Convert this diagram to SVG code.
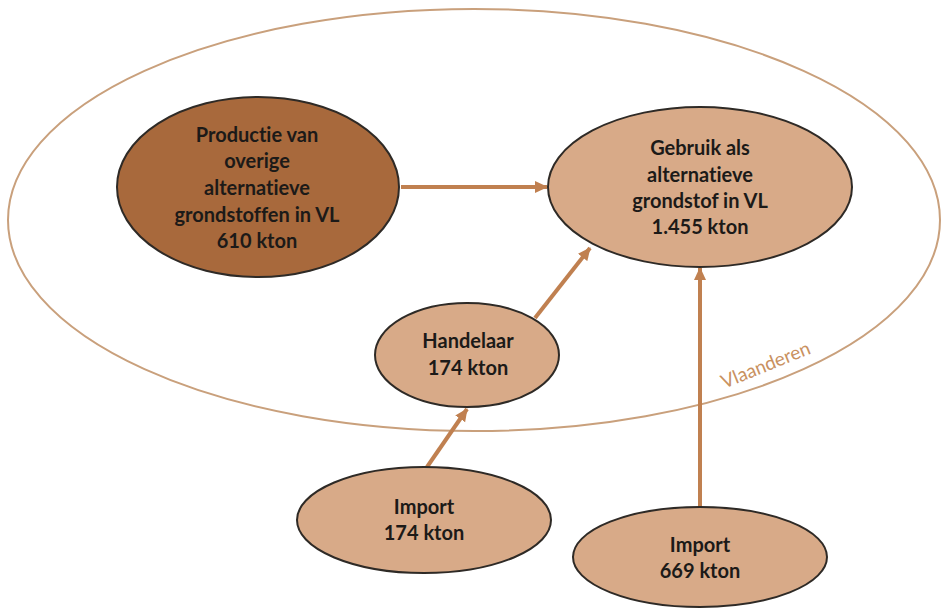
<svg xmlns="http://www.w3.org/2000/svg" width="941" height="611" viewBox="0 0 941 611">
<style>
.node{stroke:#2e2a26;stroke-width:2}
.dark{fill:#a8693c}
.light{fill:#d8aa88}
.lbl{font-family:Lato,"Liberation Sans",sans-serif;font-weight:bold;font-size:20px;fill:#1c1a18;text-anchor:middle;font-variant-ligatures:none}
.conn{stroke:#c08050;stroke-width:4;fill:none;marker-end:url(#ah)}
</style>
<defs>
<marker id="ah" markerUnits="userSpaceOnUse" markerWidth="14" markerHeight="14" refX="12" refY="7" orient="auto">
<path d="M0,1 L13,7 L0,13 Z" fill="#c08050"/>
</marker>
</defs>
<rect width="941" height="611" fill="#ffffff"/>
<g id="vlaanderen">
<ellipse cx="474" cy="220" rx="466" ry="211" fill="none" stroke="#c9a07c" stroke-width="2"/>
<text x="768" y="371" transform="rotate(-22 768 371)" font-family="Lato,'Liberation Sans',sans-serif" font-size="19" fill="#c9915f" text-anchor="middle">Vlaanderen</text>
</g>
<g id="connectors">
<line class="conn" x1="401" y1="187" x2="547" y2="187"/>
<line class="conn" x1="535" y1="318" x2="590" y2="248"/>
<line class="conn" x1="427" y1="467" x2="467" y2="409"/>
<line class="conn" x1="700" y1="508" x2="700" y2="268"/>
</g>
<g id="productie">
<ellipse class="node dark" cx="258" cy="187" rx="141" ry="90"/>
<text class="lbl" x="257" y="142">Productie van</text>
<text class="lbl" x="257" y="168">overige</text>
<text class="lbl" x="257" y="195">alternatieve</text>
<text class="lbl" x="257" y="222">grondstoffen  in VL</text>
<text class="lbl" x="257" y="248">610 kton</text>
</g>
<g id="gebruik">
<ellipse class="node light" cx="700" cy="187" rx="152" ry="80"/>
<text class="lbl" x="700" y="155">Gebruik als</text>
<text class="lbl" x="700" y="182">alternatieve</text>
<text class="lbl" x="700" y="208">grondstof  in VL</text>
<text class="lbl" x="700" y="234">1.455 kton</text>
</g>
<g id="handelaar">
<ellipse class="node light" cx="467" cy="355" rx="92" ry="52"/>
<text class="lbl" x="468" y="348">Handelaar</text>
<text class="lbl" x="468" y="375">174 kton</text>
</g>
<g id="import174">
<ellipse class="node light" cx="424" cy="520" rx="127" ry="53"/>
<text class="lbl" x="424" y="514">Import</text>
<text class="lbl" x="424" y="540">174 kton</text>
</g>
<g id="import669">
<ellipse class="node light" cx="700" cy="557" rx="127" ry="50"/>
<text class="lbl" x="700" y="552">Import</text>
<text class="lbl" x="700" y="578">669 kton</text>
</g>
</svg>
